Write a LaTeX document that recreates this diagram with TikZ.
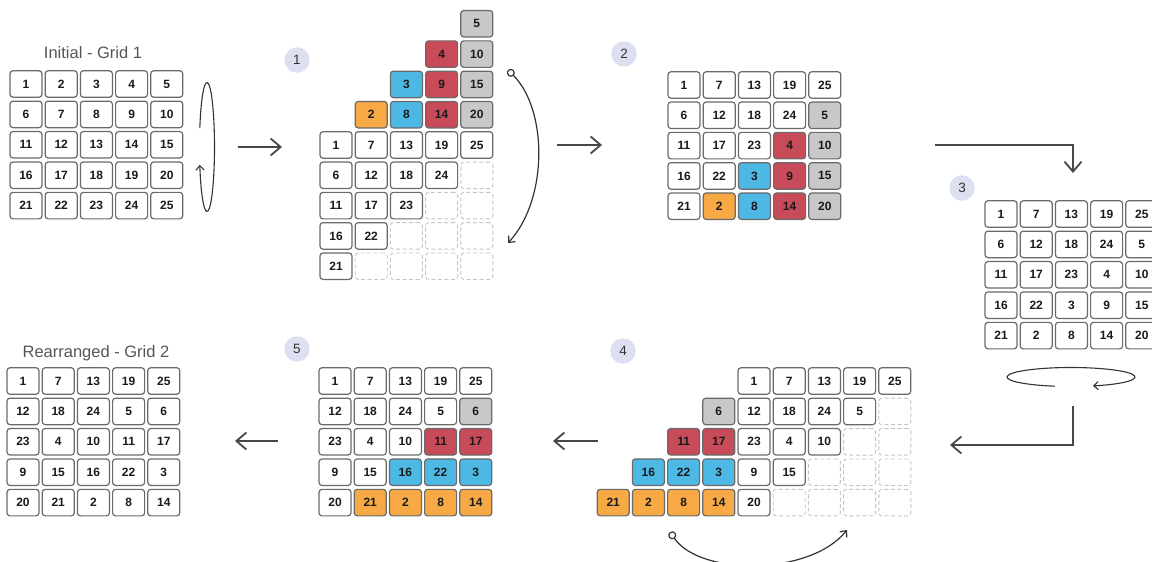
\documentclass[tikz,border=0pt]{standalone}
\usepackage{fontspec}
\setmainfont{Liberation Sans}
\usetikzlibrary{arrows.meta}

\definecolor{cellline}{HTML}{6A6A6A}
\definecolor{celltext}{HTML}{1A1A1A}
\definecolor{ghost}{HTML}{C4C4C4}
\definecolor{cOrange}{HTML}{F6A945}
\definecolor{cBlue}{HTML}{4DB8E4}
\definecolor{cRed}{HTML}{C84B59}
\definecolor{cGray}{HTML}{C8C8CA}
\definecolor{badgefill}{HTML}{DDE0F0}
\definecolor{badgetext}{HTML}{333333}
\definecolor{titletext}{HTML}{555555}
\definecolor{flowline}{HTML}{474747}
\definecolor{turnline}{HTML}{333333}

% one row of cells, 35.2pt apart, starting at x = #2, at height #3
% #4 is a list of style/number pairs
\newcommand\cellrow[4]{%
  \foreach \st/\val [count=\k from 0] in {#4}{%
    \node[\st] (#1-\k) at ({#2+35.2*\k},{#3}) {\val};
  }%
}

\begin{document}
\begin{tikzpicture}[x=1pt,y=-1pt,
  cellbase/.style={rounded corners=3pt, minimum width=32pt, minimum height=26.5pt,
    inner sep=0pt, font=\bfseries\fontsize{12}{13}\selectfont, text=celltext},
  cw/.style={cellbase, draw=cellline, line width=1.2pt, fill=white},
  co/.style={cw, fill=cOrange},
  cb/.style={cw, fill=cBlue},
  cr/.style={cw, fill=cRed},
  cg/.style={cw, fill=cGray},
  ce/.style={cellbase, draw=ghost, line width=0.9pt, dash pattern=on 4pt off 2.5pt},
  badge/.style={circle, fill=badgefill, minimum size=25.5pt, inner sep=0pt,
    font=\fontsize{13.5}{14}\selectfont, text=badgetext},
  title/.style={font=\fontsize{16.5}{18}\selectfont, text=titletext},
  flow/.style={draw=flowline, line width=1.8pt,
    -{Straight Barb[length=10pt,width=17pt,line width=1.8pt]}},
  turn/.style={draw=turnline, line width=1.1pt,
    -{Straight Barb[length=4.5pt,width=8pt]}},
  swing/.style={draw=turnline, line width=1.2pt,
    {Circle[open,length=8pt,width=8pt]}-{Straight Barb[length=5pt,width=9pt]}},
]
\useasboundingbox (0,0) rectangle (1152,562);

% ---------- initial grid ----------
\node[title] (t1) at (93,53) {Initial - Grid 1};
\cellrow{ga0}{26}{84}{cw/1,cw/2,cw/3,cw/4,cw/5}
\cellrow{ga1}{26}{84+30.4}{cw/6,cw/7,cw/8,cw/9,cw/10}
\cellrow{ga2}{26}{84+60.8}{cw/11,cw/12,cw/13,cw/14,cw/15}
\cellrow{ga3}{26}{84+91.2}{cw/16,cw/17,cw/18,cw/19,cw/20}
\cellrow{ga4}{26}{84+121.6}{cw/21,cw/22,cw/23,cw/24,cw/25}
% vertical turn
\coordinate (e1) at (207,147);
\draw[turn] (e1) ++(197:7.5 and 64.5) arc[start angle=197, end angle=524, x radius=7.5, y radius=64.5];

% ---------- step 1: columns shifted up ----------
\node[badge] (b1) at (297,60) {1};
\cellrow{sa0}{336+35.2*4}{145-121.2}{cg/5}
\cellrow{sa1}{336+35.2*3}{145-90.9}{cr/4,cg/10}
\cellrow{sa2}{336+35.2*2}{145-60.6}{cb/3,cr/9,cg/15}
\cellrow{sa3}{336+35.2}{145-30.3}{co/2,cb/8,cr/14,cg/20}
\cellrow{sa4}{336}{145}{cw/1,cw/7,cw/13,cw/19,cw/25}
\cellrow{sa5}{336}{145+30.3}{cw/6,cw/12,cw/18,cw/24,ce/{}}
\cellrow{sa6}{336}{145+60.6}{cw/11,cw/17,cw/23,ce/{},ce/{}}
\cellrow{sa7}{336}{145+90.9}{cw/16,cw/22,ce/{},ce/{},ce/{}}
\cellrow{sa8}{336}{145+121.2}{cw/21,ce/{},ce/{},ce/{},ce/{}}
\coordinate (c1s) at (508,70);
\coordinate (c1e) at (508,243);
\draw[swing] (c1s) .. controls (548,110) and (548,200) .. (c1e);

% ---------- step 2: wrapped columns ----------
\node[badge] (b2) at (624,54) {2};
\cellrow{sb0}{684}{85}{cw/1,cw/7,cw/13,cw/19,cw/25}
\cellrow{sb1}{684}{85+30.3}{cw/6,cw/12,cw/18,cw/24,cg/5}
\cellrow{sb2}{684}{85+60.6}{cw/11,cw/17,cw/23,cr/4,cg/10}
\cellrow{sb3}{684}{85+90.9}{cw/16,cw/22,cb/3,cr/9,cg/15}
\cellrow{sb4}{684}{85+121.2}{cw/21,co/2,cb/8,cr/14,cg/20}

% ---------- step 3 ----------
\node[badge] (b3) at (962,188) {3};
\cellrow{sc0}{1001}{214}{cw/1,cw/7,cw/13,cw/19,cw/25}
\cellrow{sc1}{1001}{214+30.4}{cw/6,cw/12,cw/18,cw/24,cw/5}
\cellrow{sc2}{1001}{214+60.8}{cw/11,cw/17,cw/23,cw/4,cw/10}
\cellrow{sc3}{1001}{214+91.2}{cw/16,cw/22,cw/3,cw/9,cw/15}
\cellrow{sc4}{1001}{214+121.6}{cw/21,cw/2,cw/8,cw/14,cw/20}
% horizontal turn
\coordinate (e3) at (1071,377);
\draw[turn] (e3) ++(104.5:64 and 9.5) arc[start angle=104.5, end angle=430, x radius=64, y radius=9.5];

% ---------- step 4: rows shifted left ----------
\node[badge] (b4) at (623,351) {4};
\cellrow{sd0}{754}{381}{cw/1,cw/7,cw/13,cw/19,cw/25}
\cellrow{sd1}{754-35.2}{381+30.4}{cg/6,cw/12,cw/18,cw/24,cw/5,ce/{}}
\cellrow{sd2}{754-70.4}{381+60.8}{cr/11,cr/17,cw/23,cw/4,cw/10,ce/{},ce/{}}
\cellrow{sd3}{754-105.6}{381+91.2}{cb/16,cb/22,cb/3,cw/9,cw/15,ce/{},ce/{},ce/{}}
\cellrow{sd4}{754-140.8}{381+121.6}{co/21,co/2,co/8,co/14,cw/20,ce/{},ce/{},ce/{},ce/{}}
\coordinate (c4s) at (670,532);
\coordinate (c4e) at (847,530);
\draw[swing] (c4s) .. controls (700,576) and (810,576) .. (c4e);

% ---------- step 5: wrapped rows ----------
\node[badge] (b5) at (297,349) {5};
\cellrow{se0}{335}{381}{cw/1,cw/7,cw/13,cw/19,cw/25}
\cellrow{se1}{335}{381+30.4}{cw/12,cw/18,cw/24,cw/5,cg/6}
\cellrow{se2}{335}{381+60.8}{cw/23,cw/4,cw/10,cr/11,cr/17}
\cellrow{se3}{335}{381+91.2}{cw/9,cw/15,cb/16,cb/22,cb/3}
\cellrow{se4}{335}{381+121.6}{cw/20,co/21,co/2,co/8,co/14}

% ---------- rearranged grid ----------
\node[title] (t2) at (96,353) {Rearranged - Grid 2};
\cellrow{gb0}{23}{381}{cw/1,cw/7,cw/13,cw/19,cw/25}
\cellrow{gb1}{23}{381+30.4}{cw/12,cw/18,cw/24,cw/5,cw/6}
\cellrow{gb2}{23}{381+60.8}{cw/23,cw/4,cw/10,cw/11,cw/17}
\cellrow{gb3}{23}{381+91.2}{cw/9,cw/15,cw/16,cw/22,cw/3}
\cellrow{gb4}{23}{381+121.6}{cw/20,cw/21,cw/2,cw/8,cw/14}

% ---------- flow between stages ----------
\coordinate (f1a) at (238,147);  \coordinate (f1b) at (282,147);
\coordinate (f2a) at (557,145);  \coordinate (f2b) at (602,145);
\coordinate (f3a) at (935,145);  \coordinate (f3b) at (1073,173);
\coordinate (f4a) at (1073,406); \coordinate (f4b) at (950,445);
\coordinate (f5a) at (598,441);  \coordinate (f5b) at (553,441);
\coordinate (f6a) at (278,441);  \coordinate (f6b) at (235,441);
\draw[flow] (f1a) -- (f1b);
\draw[flow] (f2a) -- (f2b);
\draw[flow] (f3a) -| (f3b);
\draw[flow] (f4a) |- (f4b);
\draw[flow] (f5a) -- (f5b);
\draw[flow] (f6a) -- (f6b);
\end{tikzpicture}
\end{document}
